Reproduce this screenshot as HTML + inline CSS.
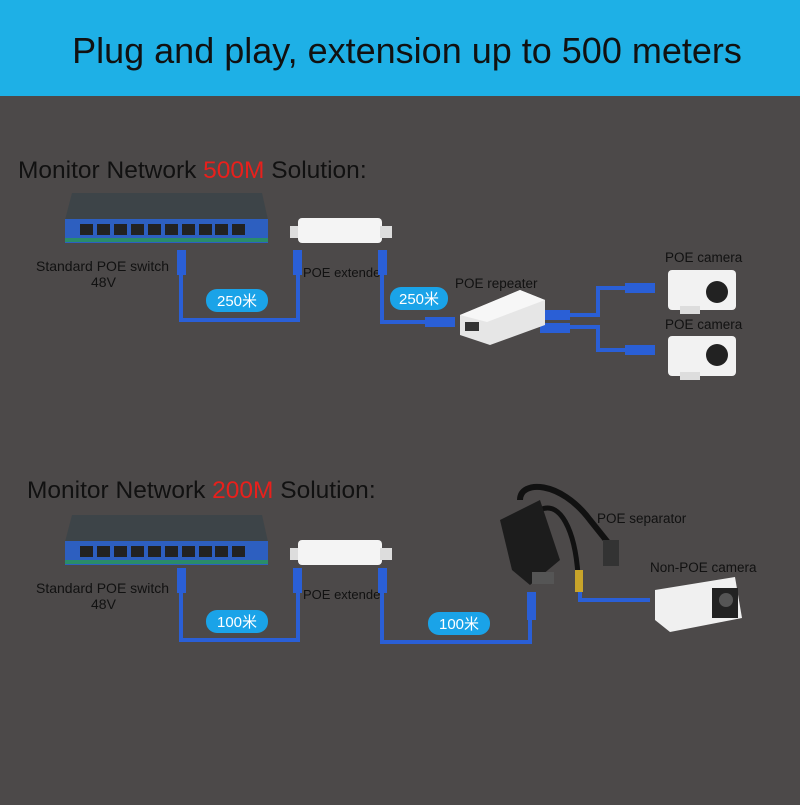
<!DOCTYPE html><html><head><meta charset="utf-8"><style>body{margin:0;width:800px;height:800px;overflow:hidden;background:#4c4949}</style></head><body>
<svg width="800" height="800" xmlns="http://www.w3.org/2000/svg" font-family="Liberation Sans, Noto Sans CJK SC, sans-serif">
<rect width="800" height="800" fill="#4c4949"/>
<rect width="800" height="96" fill="#1eb0e6"/>
<text x="407" y="63" text-anchor="middle" font-size="36" fill="#111">Plug and play, extension up to 500 meters</text>
<text x="18" y="178" font-size="24.5" fill="#111">Monitor Network <tspan fill="#e8201c">500M</tspan> Solution:</text>
<text x="27" y="498" font-size="24.5" fill="#111">Monitor Network <tspan fill="#e8201c">200M</tspan> Solution:</text>
<g id="row">
<polygon points="65,220 72,193 262,193 268,220" fill="#3d4448"/>
<rect x="65" y="219" width="203" height="24" fill="#2d5fc0"/>
<g fill="#222">
<rect x="80" y="224" width="13" height="11"/><rect x="97" y="224" width="13" height="11"/><rect x="114" y="224" width="13" height="11"/><rect x="131" y="224" width="13" height="11"/><rect x="148" y="224" width="13" height="11"/><rect x="165" y="224" width="13" height="11"/><rect x="182" y="224" width="13" height="11"/><rect x="199" y="224" width="13" height="11"/><rect x="215" y="224" width="13" height="11"/><rect x="232" y="224" width="13" height="11"/></g>
<rect x="65" y="238" width="203" height="4" fill="#2a8c6a"/>
<rect x="290" y="226" width="10" height="12" fill="#ddd"/><rect x="298" y="218" width="84" height="25" rx="4" fill="#f4f4f4"/><rect x="380" y="226" width="12" height="12" fill="#ddd"/>
<text x="36" y="271" font-size="14" fill="#111">Standard POE switch</text>
<text x="91" y="287" font-size="14" fill="#111">48V</text>
<text x="303" y="277" font-size="13" fill="#111">POE extender</text>
</g>
<use href="#row" y="322"/>
<g fill="none" stroke="#2a5fd6" stroke-width="4">
<path d="M181,270 V320 H298 V270"/><path d="M382,270 V322 H428"/>
<path d="M540,315 H598 V288 H628"/><path d="M540,327 H598 V350 H628"/>
<path d="M181,592 V640 H298 V592"/><path d="M382,592 V642 H530 V618"/>
<path d="M580,592 V600 H650"/>
</g>
<g fill="#2a5fd6">
<rect x="177" y="250" width="9" height="25"/><rect x="293" y="250" width="9" height="25"/><rect x="378" y="250" width="9" height="25"/><rect x="425" y="317" width="30" height="10"/>
<rect x="540" y="310" width="30" height="10"/><rect x="540" y="323" width="30" height="10"/><rect x="625" y="283" width="30" height="10"/><rect x="625" y="345" width="30" height="10"/>
<rect x="177" y="568" width="9" height="25"/><rect x="293" y="568" width="9" height="25"/><rect x="378" y="568" width="9" height="25"/><rect x="527" y="592" width="9" height="28"/>
</g>
<g fill="#1aa3e8"><rect x="206" y="289" width="62" height="23" rx="11"/><rect x="390" y="287" width="58" height="23" rx="11"/><rect x="206" y="610" width="62" height="23" rx="11"/><rect x="428" y="612" width="62" height="23" rx="11"/></g>
<g font-size="15" fill="#fff" text-anchor="middle"><text x="237" y="306">250米</text><text x="419" y="304">250米</text><text x="237" y="627">100米</text><text x="459" y="629">100米</text></g>
<polygon points="460,315 520,290 545,300 545,325 490,345 460,335" fill="#e6e6e6"/>
<polygon points="460,315 520,290 545,300 487,322" fill="#f7f7f7"/>
<rect x="465" y="322" width="14" height="9" fill="#333"/>
<text x="455" y="288" font-size="13.5" fill="#111">POE repeater</text>
<text x="665" y="262" font-size="13.5" fill="#111">POE camera</text>
<text x="665" y="329" font-size="13.5" fill="#111">POE camera</text>
<g><rect x="668" y="270" width="68" height="40" rx="4" fill="#f2f2f2"/><circle cx="717" cy="292" r="11" fill="#222"/><rect x="680" y="306" width="20" height="8" fill="#ddd"/></g>
<g><rect x="668" y="336" width="68" height="40" rx="4" fill="#f2f2f2"/><circle cx="717" cy="355" r="11" fill="#222"/><rect x="680" y="372" width="20" height="8" fill="#ddd"/></g>
<path d="M520,500 C520,480 560,480 590,520 L610,545" fill="none" stroke="#111" stroke-width="6"/>
<path d="M540,510 C560,500 575,530 578,575" fill="none" stroke="#111" stroke-width="5"/>
<polygon points="500,520 540,500 560,560 530,585 512,570" fill="#1c1c1c"/>
<rect x="532" y="572" width="22" height="12" fill="#555"/>
<rect x="575" y="570" width="8" height="22" fill="#c8a42a"/>
<rect x="603" y="540" width="16" height="26" fill="#333"/>
<text x="597" y="523" font-size="13.5" fill="#111">POE separator</text>
<text x="650" y="572" font-size="13.5" fill="#111">Non-POE camera</text>
<polygon points="655,590 735,577 742,618 670,632 655,620" fill="#f0f0f0"/>
<rect x="712" y="588" width="26" height="30" fill="#222"/>
<circle cx="726" cy="600" r="7" fill="#555"/>
</svg></body></html>
